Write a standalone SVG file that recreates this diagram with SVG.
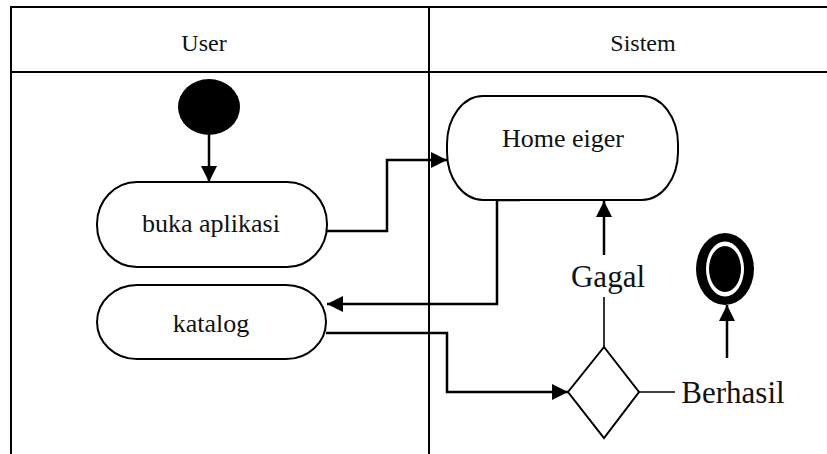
<svg xmlns="http://www.w3.org/2000/svg" width="827" height="454" viewBox="0 0 827 454">
  <style>
    .lane { stroke: #000; stroke-width: 2; fill: none; }
    .act { fill: #fff; stroke: #000; stroke-width: 2; }
    .flow { fill: none; stroke: #000; stroke-width: 2.5; }
    .guard { fill: none; stroke: #000; stroke-width: 1.6; }
    .lbl { font-family: "Liberation Serif", "Times New Roman", serif; fill: #111; text-anchor: middle; }
    .hdr { font-size: 24px; }
    .txt { font-size: 26px; }
    .big { font-size: 31px; }
  </style>
  <defs>
    <marker id="arrow" markerUnits="userSpaceOnUse" markerWidth="16" markerHeight="16" viewBox="0 0 16 16" refX="16" refY="8" orient="auto">
      <path d="M0,0 L16,8 L0,16 Z" fill="#000"/>
    </marker>
  </defs>

  <!-- swimlane frame -->
  <g id="swimlanes">
    <path class="lane" d="M11,454 V7 H827"/>
    <path class="lane" d="M11,72 H827"/>
    <path class="lane" d="M429,7 V454"/>
    <text class="lbl hdr" x="204" y="51">User</text>
    <text class="lbl hdr" x="643" y="51">Sistem</text>
  </g>

  <!-- connectors -->
  <g id="connectors">
    <path class="flow" d="M209,135 V182" marker-end="url(#arrow)"/>
    <path class="flow" d="M327,231 H387 V160 H447" marker-end="url(#arrow)"/>
    <path class="flow" d="M520,200 H497 V304 H327" marker-end="url(#arrow)"/>
    <path class="flow" d="M326,333 H447 V392 H568" marker-end="url(#arrow)"/>
    <path class="guard" d="M604,347 V297"/>
    <path class="flow" d="M604,255 V201" marker-end="url(#arrow)"/>
    <path class="guard" d="M639,392 H675"/>
    <path class="flow" d="M727,358 V305" marker-end="url(#arrow)"/>
    <text class="lbl big" x="608" y="287">Gagal</text>
    <text class="lbl big" x="733" y="403">Berhasil</text>
  </g>

  <!-- start node -->
  <g id="start">
    <ellipse cx="209" cy="107" rx="31" ry="28" fill="#000"/>
  </g>

  <!-- activities -->
  <g id="buka-aplikasi">
    <rect class="act" x="97" y="182" width="230" height="85" rx="40" ry="42"/>
    <text class="lbl txt" x="211" y="232">buka aplikasi</text>
  </g>

  <g id="katalog">
    <rect class="act" x="97" y="285" width="229" height="74" rx="40" ry="37"/>
    <text class="lbl txt" x="211" y="332">katalog</text>
  </g>

  <g id="home-eiger">
    <rect class="act" x="447" y="96" width="231" height="104" rx="36" ry="48"/>
    <text class="lbl txt" x="563" y="147">Home eiger</text>
  </g>

  <!-- decision -->
  <g id="decision">
    <path class="act" d="M604,347 L639,392 L604,438 L568,392 Z"/>
  </g>

  <!-- final node -->
  <g id="end">
    <ellipse cx="725" cy="269" rx="29" ry="36" fill="#000"/>
    <ellipse cx="725" cy="269" rx="19" ry="27.5" fill="#fff"/>
    <ellipse cx="725" cy="269" rx="16" ry="23" fill="#000"/>
  </g>
</svg>
